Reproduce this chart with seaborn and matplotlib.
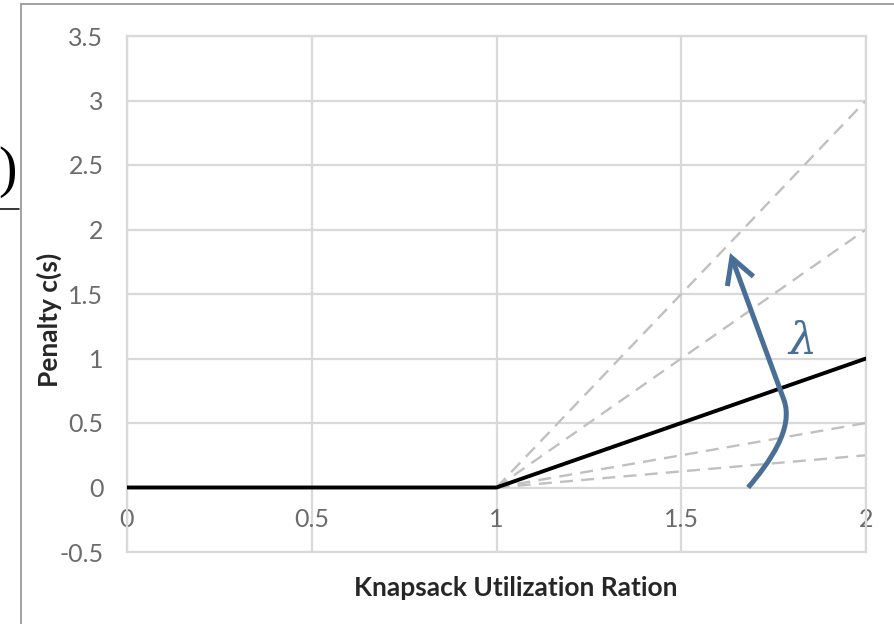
import numpy as np
import pandas as pd
import seaborn as sns
import matplotlib
matplotlib.use("Agg")
import matplotlib.pyplot as plt
from matplotlib.path import Path
from matplotlib.patches import FancyArrowPatch
from matplotlib.lines import Line2D

# Piecewise-linear penalty: zero up to full capacity, then rising with slope lambda
util_points = [0.0, 1.0, 2.0]
penalty_values = [0.0, 0.0, 1.0]

# Alternative slopes shown as dashed guides, starting from the kink at 1
guide_start = [1.0, 0.0]
guide_x_end = 2.0
guide_y_end = [0.25, 0.5, 2.0, 3.0]

x_ticks = [0, 0.5, 1, 1.5, 2]
x_tick_labels = ["0", "0.5", "1", "1.5", "2"]
y_ticks = [-0.5, 0, 0.5, 1, 1.5, 2, 2.5, 3, 3.5]
y_tick_labels = ["-0.5", "0", "0.5", "1", "1.5", "2", "2.5", "3", "3.5"]

sns.set_theme(style="white")
plt.rcParams["font.family"] = ["Lato", "DejaVu Sans"]

W, H = 894, 624
fig = plt.figure(figsize=(W / 100, H / 100), dpi=100)
ax = fig.add_axes([127 / W, 1 - 552 / H, (866 - 127) / W, (552 - 36) / H])

grid_c = "#d9d9d9"
tick_c = "#6b6b6b"
blue = "#4a6f96"

# dashed guide lines
rows = []
for i, ye in enumerate(guide_y_end):
    rows.append({"x": guide_start[0], "y": guide_start[1], "g": i})
    rows.append({"x": guide_x_end, "y": ye, "g": i})
guides = pd.DataFrame(rows)
for g, sub in guides.groupby("g"):
    sns.lineplot(data=sub, x="x", y="y", ax=ax, color="#c0c0c0", lw=1.7,
                 linestyle=(0, (5.5, 3.5)), zorder=2, legend=False)

# main penalty curve
sns.lineplot(x=util_points, y=penalty_values, ax=ax, color="black", lw=2.8,
             zorder=3, legend=False)

ax.set_xlim(0, 2)
ax.set_ylim(-0.5, 3.5)
ax.set_xticks(x_ticks, x_tick_labels)
ax.set_yticks(y_ticks, y_tick_labels)

ax.grid(True, color=grid_c, lw=1.6, zorder=0)
ax.set_axisbelow(True)
for s in ax.spines.values():
    s.set_visible(True)
    s.set_color(grid_c)
    s.set_linewidth(1.6)

ax.tick_params(axis="both", length=0, labelsize=18, labelcolor=tick_c)
ax.tick_params(axis="y", pad=17)
ax.tick_params(axis="x", pad=-32)

ax.set_xlabel("Knapsack Utilization Ration", fontsize=19, fontweight="bold",
              color="#262626", labelpad=17)
ax.set_ylabel("Penalty c(s)", fontsize=19, fontweight="bold",
              color="#262626")
ax.xaxis.label.set_x(0.526)
ax.yaxis.set_label_coords(-0.088, 0.45)

# curved arrow indicating increasing lambda
verts = [(1.681, 0.0), (1.740, 0.198), (1.805, 0.461), (1.778, 0.678), (1.632, 1.818)]
codes = [Path.MOVETO, Path.CURVE4, Path.CURVE4, Path.CURVE4, Path.LINETO]
arrow = FancyArrowPatch(path=Path(verts, codes),
                        arrowstyle="->,head_length=0.9,head_width=0.5",
                        mutation_scale=20, color=blue, lw=3.6,
                        capstyle="butt", joinstyle="miter", zorder=5)
ax.add_patch(arrow)
ax.text(1.828, 1.13, "λ", color=blue, fontsize=32, family="DejaVu Serif",
        style="italic", ha="center", va="center", zorder=5)

# surrounding frame and the fraction fragment at the left edge
fig.add_artist(Line2D([21 / W, 21 / W], [0, 1 - 4 / H], color="#9a9a9a", lw=1.3,
                      transform=fig.transFigure))
fig.add_artist(Line2D([21 / W, 1], [1 - 4 / H, 1 - 4 / H], color="#9a9a9a", lw=1.3,
                      transform=fig.transFigure))
fig.text(17 / W, 1 - 172 / H, ")", fontsize=40, family="Liberation Serif",
         ha="right", va="center", color="black")
fig.add_artist(Line2D([0, 19 / W], [1 - 209 / H, 1 - 209 / H], color="black", lw=1.1,
                      transform=fig.transFigure))

fig.savefig("out.png", dpi=100)
